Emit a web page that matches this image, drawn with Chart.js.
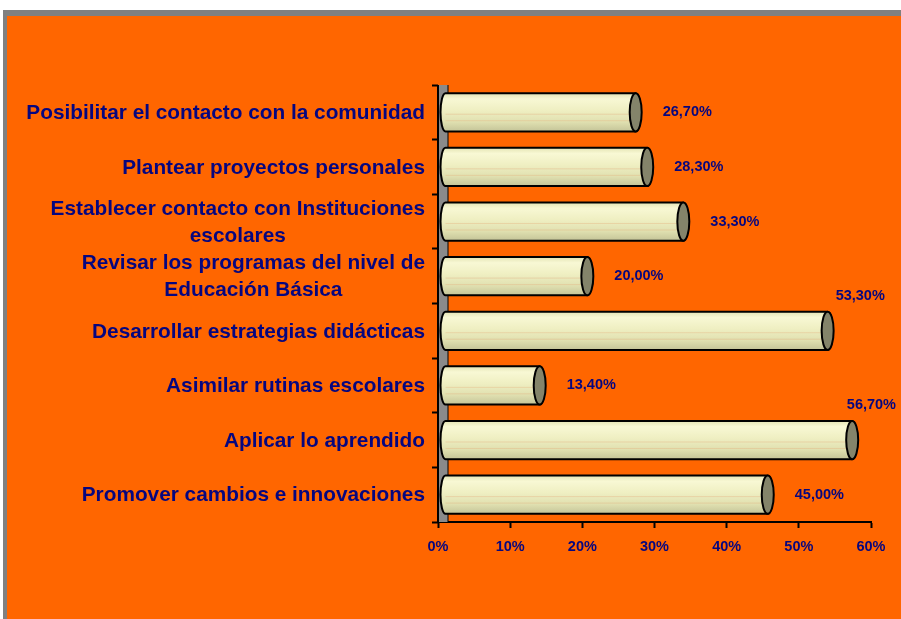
<!DOCTYPE html>
<html>
<head>
<meta charset="utf-8">
<script src="https://cdn.jsdelivr.net/npm/chart.js@4"></script>
<style>
  body { margin: 0; background: #fff; }
  #frame { position: absolute; left: 3px; top: 10px; right: 0; bottom: 0; background: #808080; }
  #inner { position: absolute; left: 4px; top: 6px; right: 0; bottom: 0; background: #ff6600; }
  #c { position: absolute; left: 0; top: 0; }
</style>
</head>
<body>
<div id="frame"><div id="inner"></div></div>
<canvas id="c" width="901" height="619"></canvas>
<script>
let categories = [
  ['Posibilitar el contacto con la comunidad'],
  ['Plantear proyectos personales'],
  ['Establecer contacto con Instituciones', 'escolares'],
  ['Revisar los programas del nivel de', 'Educación Básica'],
  ['Desarrollar estrategias didácticas'],
  ['Asimilar rutinas escolares'],
  ['Aplicar lo aprendido'],
  ['Promover cambios e innovaciones']
];
let values = [26.7, 28.3, 33.3, 20.0, 53.3, 13.4, 56.7, 45.0];
let xTicks = [0, 10, 20, 30, 40, 50, 60];

let navy = '#06067f';

function fmt(v) {
  return v.toFixed(2).replace('.', ',') + '%';
}

// gray wall, cylinders, value labels, category labels
let cylinders = {
  id: 'cylinders',
  beforeDatasetsDraw(chart) {
    let ctx = chart.ctx;
    let a = chart.chartArea;
    ctx.save();
    ctx.fillStyle = '#8a8a8a';
    ctx.fillRect(a.left, a.top, 10, a.bottom - a.top);
    ctx.strokeStyle = '#000';
    ctx.lineWidth = 2;
    ctx.beginPath();
    ctx.moveTo(a.left, a.top);
    ctx.lineTo(a.left, a.bottom);
    ctx.stroke();
    ctx.lineWidth = 1;
    ctx.beginPath();
    ctx.moveTo(a.left + 10, a.top);
    ctx.lineTo(a.left + 10, a.bottom);
    ctx.stroke();
    ctx.restore();
  },
  afterDatasetsDraw(chart) {
    let ctx = chart.ctx;
    let meta = chart.getDatasetMeta(0);
    ctx.save();
    meta.data.forEach(function(bar, i) {
      let h = bar.height;
      let top = bar.y - h / 2, bot = bar.y + h / 2;
      let xs = bar.base + 7;
      let xe = bar.x + 5;
      let rx = 5, ry = h / 2;
      let g = ctx.createLinearGradient(0, top, 0, bot);
      g.addColorStop(0, '#e4e4b4');
      g.addColorStop(0.15, '#f8f8d4');
      g.addColorStop(0.45, '#efefc2');
      g.addColorStop(0.75, '#e0e0b0');
      g.addColorStop(1, '#c4c498');
      ctx.beginPath();
      ctx.moveTo(xs, top);
      ctx.lineTo(xe, top);
      ctx.ellipse(xe, bar.y, rx, ry, 0, -Math.PI / 2, Math.PI / 2);
      ctx.lineTo(xs, bot);
      ctx.ellipse(xs, bar.y, rx, ry, 0, Math.PI / 2, Math.PI * 1.5);
      ctx.closePath();
      ctx.fillStyle = g;
      ctx.fill();
      // faint stripes
      ctx.strokeStyle = 'rgba(230,170,120,0.35)';
      ctx.lineWidth = 1;
      [0.55, 0.72].forEach(function(f) {
        ctx.beginPath();
        ctx.moveTo(xs, top + h * f);
        ctx.lineTo(xe, top + h * f);
        ctx.stroke();
      });
      ctx.strokeStyle = '#000';
      ctx.lineWidth = 2;
      ctx.beginPath();
      ctx.moveTo(xs, top);
      ctx.lineTo(xe, top);
      ctx.ellipse(xe, bar.y, rx, ry, 0, -Math.PI / 2, Math.PI / 2);
      ctx.lineTo(xs, bot);
      ctx.ellipse(xs, bar.y, rx, ry, 0, Math.PI / 2, Math.PI * 1.5);
      ctx.closePath();
      ctx.stroke();
      ctx.beginPath();
      ctx.ellipse(xe, bar.y, rx + 1, ry, 0, 0, Math.PI * 2);
      ctx.fillStyle = '#84846a';
      ctx.fill();
      ctx.stroke();

      // value label: right of the bar, or above it when there is no room
      ctx.font = 'bold 14.5px "Liberation Sans", Arial, sans-serif';
      ctx.fillStyle = navy;
      ctx.textBaseline = 'middle';
      ctx.textAlign = 'left';
      let txt = fmt(values[i]);
      let tw = ctx.measureText(txt).width;
      let lx = xe + 27;
      let ly = bar.y;
      if (lx + tw > chart.width - 4) {
        lx = Math.min(xe + 8, chart.width - 5 - tw);
        ly = bar.y - 35;
      }
      ctx.fillText(txt, lx, ly);
    });

    // category labels, lines centred within a right-aligned block
    let ys = chart.scales.y;
    ctx.font = 'bold 20.8px "Liberation Sans", Arial, sans-serif';
    ctx.textAlign = 'center';
    ctx.textBaseline = 'middle';
    ctx.fillStyle = navy;
    categories.forEach(function(lines, i) {
      let y = ys.getPixelForTick(i) + 1;
      let w = Math.max.apply(null, lines.map(function(s) { return ctx.measureText(s).width; }));
      let cx = 425 - w / 2;
      let lh = 27;
      lines.forEach(function(s, k) {
        ctx.fillText(s, cx, y + (k - (lines.length - 1) / 2) * lh);
      });
    });
    ctx.restore();
  }
};

new Chart(document.getElementById('c').getContext('2d'), {
  type: 'bar',
  data: {
    labels: categories,
    datasets: [{
      data: values,
      backgroundColor: 'rgba(0,0,0,0)',
      borderWidth: 0,
      categoryPercentage: 0.7,
      barPercentage: 1
    }]
  },
  options: {
    indexAxis: 'y',
    responsive: false,
    animation: false,
    devicePixelRatio: 1,
    layout: { padding: { top: 85, right: 30, bottom: 57, left: 0 } },
    plugins: { legend: { display: false }, tooltip: { enabled: false } },
    scales: {
      x: {
        min: 0,
        max: 60,
        afterFit: function(s) { s.height = 40; },
        afterBuildTicks: function(s) { s.ticks = xTicks.map(function(v) { return { value: v }; }); },
        ticks: {
          callback: function(v) { return v + '%'; },
          color: navy,
          font: { family: '"Liberation Sans", Arial, sans-serif', size: 14.5, weight: 'bold' },
          padding: 10,
          maxRotation: 0
        },
        grid: { drawOnChartArea: false, drawTicks: true, tickLength: 6, tickWidth: 2, tickColor: '#000' },
        border: { color: '#000', width: 2 }
      },
      y: {
        afterFit: function(s) { s.width = 438; },
        ticks: { display: false },
        grid: { drawOnChartArea: false, drawTicks: true, tickLength: 6, tickWidth: 2, tickColor: '#000', offset: true },
        border: { display: false }
      }
    }
  },
  plugins: [cylinders]
});
</script>
</body>
</html>
